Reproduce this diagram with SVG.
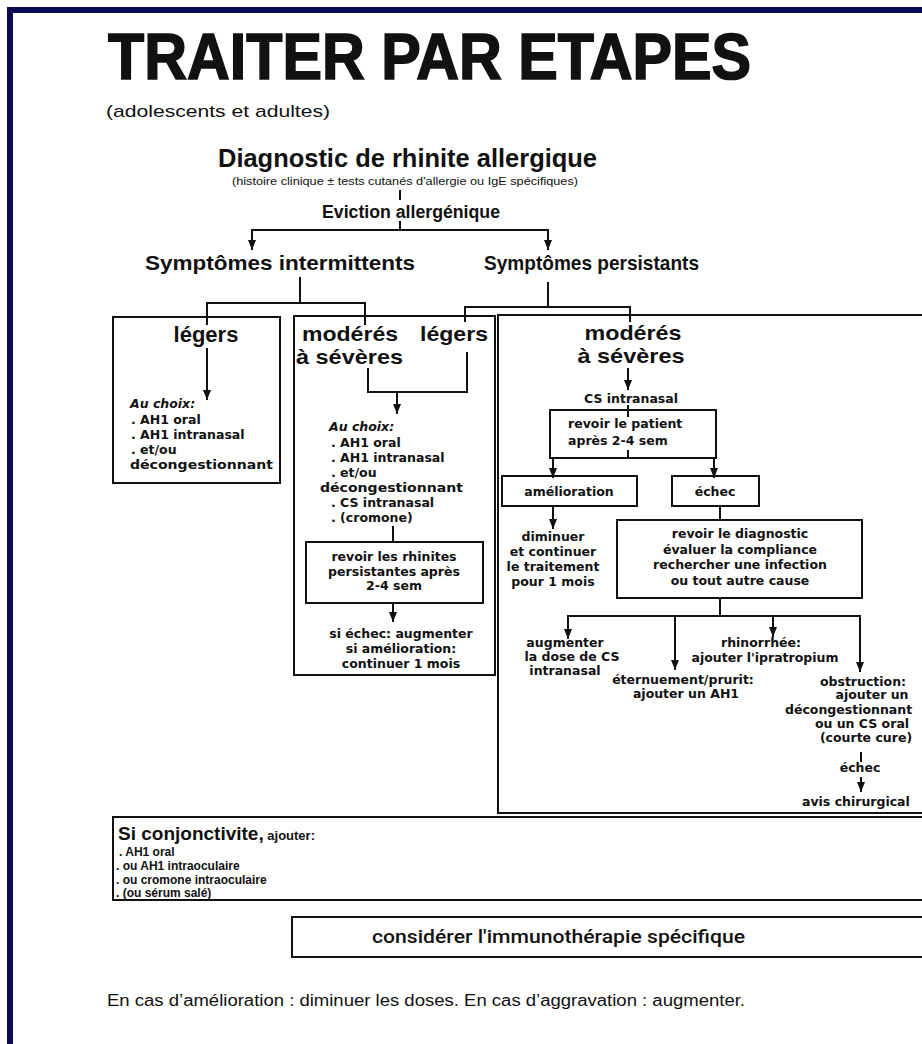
<svg xmlns="http://www.w3.org/2000/svg" width="922" height="1044" viewBox="0 0 922 1044">
<defs>
<marker id="ah" markerUnits="userSpaceOnUse" markerWidth="10" markerHeight="9" refX="10" refY="4.5" orient="auto" viewBox="0 0 10 9"><path d="M0,0.5 L10,4.5 L0,8.5 Z" fill="#111"/></marker>
<style>
.ln{stroke:#111;stroke-width:2;fill:none}
.ar{stroke:#111;stroke-width:2;fill:none;marker-end:url(#ah)}
.bx{stroke:#111;stroke-width:2;fill:none}
.h{font-family:"Liberation Sans",Arial,sans-serif;font-weight:bold;fill:#111}
.s{font-family:"DejaVu Sans","Liberation Sans",sans-serif;font-weight:bold;font-size:12.5px;fill:#111}
.c{text-anchor:middle}
.i{font-style:italic}
</style>
</defs>
<rect x="0" y="0" width="922" height="1044" fill="#fff"/>
<rect x="10" y="10" width="1000" height="1100" fill="none" stroke="#0a0a55" stroke-width="6"/>

<g id="title">
<text x="108" y="79" class="h" font-size="64" font-weight="900" stroke="#111" stroke-width="1.6" textLength="643" lengthAdjust="spacingAndGlyphs">TRAITER PAR ETAPES</text>
<text x="106" y="117" font-family="Liberation Sans,Arial,sans-serif" font-size="17" fill="#111" textLength="224" lengthAdjust="spacingAndGlyphs">(adolescents et adultes)</text>
</g>

<g id="diagnostic">
<text x="218" y="167" class="h" font-size="25" textLength="379" lengthAdjust="spacingAndGlyphs">Diagnostic de rhinite allergique</text>
<text x="232" y="185" font-family="Liberation Sans,Arial,sans-serif" font-size="11.5" fill="#111" textLength="346" lengthAdjust="spacingAndGlyphs">(histoire clinique ± tests cutanés d'allergie ou IgE spécifiques)</text>
</g>
<g id="eviction"><text x="322" y="218" class="h" font-size="17.5" textLength="178" lengthAdjust="spacingAndGlyphs">Eviction allergénique</text></g>
<g id="intermittents"><text x="145" y="270" class="h" font-size="21" textLength="270" lengthAdjust="spacingAndGlyphs">Symptômes intermittents</text></g>
<g id="persistants"><text x="484" y="270" class="h" font-size="21" textLength="215" lengthAdjust="spacingAndGlyphs">Symptômes persistants</text></g>

<g id="box-int-legers">
<rect class="bx" x="113" y="317" width="167" height="166"/>
<text x="206" y="342" class="h c" font-size="22">légers</text>
<text x="130" y="408" class="s i" font-size="12">Au choix:</text>
<text x="131" y="424" class="s">. AH1 oral</text>
<text x="131" y="439" class="s">. AH1 intranasal</text>
<text x="131" y="454" class="s">. et/ou</text>
<text x="130" y="469" class="s" textLength="143" lengthAdjust="spacingAndGlyphs">décongestionnant</text>
</g>

<g id="box-mid">
<rect class="bx" x="294" y="316" width="201" height="359"/>
<text x="302" y="341" class="h" font-size="21" textLength="96" lengthAdjust="spacingAndGlyphs">modérés</text>
<text x="420" y="341" class="h" font-size="21" textLength="68" lengthAdjust="spacingAndGlyphs">légers</text>
<text x="296" y="364" class="h" font-size="21" textLength="107" lengthAdjust="spacingAndGlyphs">à sévères</text>
<text x="329" y="431" class="s i" font-size="12">Au choix:</text>
<text x="331" y="447" class="s">. AH1 oral</text>
<text x="331" y="462" class="s">. AH1 intranasal</text>
<text x="331" y="477" class="s">. et/ou</text>
<text x="320" y="492" class="s" textLength="143" lengthAdjust="spacingAndGlyphs">décongestionnant</text>
<text x="331" y="507" class="s">. CS intranasal</text>
<text x="331" y="522" class="s">. (cromone)</text>
</g>
<g id="box-revoir-rhinites">
<rect class="bx" x="306" y="542" width="177" height="61"/>
<text x="394" y="561" class="s c">revoir les rhinites</text>
<text x="394" y="576" class="s c">persistantes après</text>
<text x="394" y="590" class="s c">2-4 sem</text>
</g>
<g id="mid-result">
<text x="401" y="638" class="s c">si échec: augmenter</text>
<text x="401" y="653" class="s c">si amélioration:</text>
<text x="401" y="668" class="s c">continuer 1 mois</text>
</g>

<g id="box-pers-moderes">
<rect class="bx" x="498" y="315" width="440" height="498"/>
<text x="633" y="340" class="h c" font-size="21" textLength="97" lengthAdjust="spacingAndGlyphs">modérés</text>
<text x="631" y="363" class="h c" font-size="21" textLength="107" lengthAdjust="spacingAndGlyphs">à sévères</text>
<text x="631" y="403" class="s c">CS intranasal</text>
</g>
<g id="box-revoir-patient">
<rect class="bx" x="550" y="410" width="166" height="48"/>
<text x="568" y="428" class="s">revoir le patient</text>
<text x="568" y="445" class="s">après 2-4 sem</text>
</g>
<g id="box-amelioration">
<rect class="bx" x="502" y="476" width="135" height="30"/>
<text x="569" y="496" class="s c">amélioration</text>
</g>
<g id="box-echec">
<rect class="bx" x="672" y="476" width="87" height="30"/>
<text x="715" y="496" class="s c">échec</text>
</g>
<g id="diminuer">
<text x="553" y="541" class="s c">diminuer</text>
<text x="553" y="556" class="s c">et continuer</text>
<text x="553" y="571" class="s c">le traitement</text>
<text x="553" y="586" class="s c">pour 1 mois</text>
</g>
<g id="box-revoir-diagnostic">
<rect class="bx" x="617" y="520" width="245" height="78"/>
<text x="740" y="538" class="s c">revoir le diagnostic</text>
<text x="740" y="554" class="s c">évaluer la compliance</text>
<text x="740" y="569" class="s c">rechercher une infection</text>
<text x="740" y="585" class="s c">ou tout autre cause</text>
</g>
<g id="augmenter">
<text x="565" y="647" class="s c">augmenter</text>
<text x="572" y="661" class="s c" font-size="12">la dose de CS</text>
<text x="565" y="675" class="s c" font-size="12">intranasal</text>
</g>
<g id="eternuement">
<text x="683" y="684" class="s c" font-size="12">éternuement/prurit:</text>
<text x="686" y="698" class="s c" font-size="12">ajouter un  AH1</text>
</g>
<g id="rhinorrhee">
<text x="761" y="647" class="s c">rhinorrhée:</text>
<text x="765" y="662" class="s c">ajouter l'ipratropium</text>
</g>
<g id="obstruction">
<text x="863" y="686" class="s c">obstruction:</text>
<text x="872" y="699" class="s c">ajouter un</text>
<text x="785" y="714" class="s">décongestionnant</text>
<text x="862" y="728" class="s c">ou un CS oral</text>
<text x="866" y="742" class="s c">(courte cure)</text>
<text x="860" y="772" class="s c">échec</text>
<text x="802" y="806" class="s">avis chirurgical</text>
</g>

<g id="box-conjonctivite">
<rect class="bx" x="113" y="817" width="830" height="83"/>
<text x="118" y="840" font-family="Liberation Sans,Arial,sans-serif" font-weight="bold" fill="#111"><tspan font-size="19">Si conjonctivite,</tspan><tspan font-size="13"> ajouter:</tspan></text>
<text x="119" y="856" class="h" font-size="12">. AH1 oral</text>
<text x="116" y="870" class="h" font-size="12">. ou AH1 intraoculaire</text>
<text x="116" y="884" class="h" font-size="12">. ou cromone intraoculaire</text>
<text x="116" y="897" class="h" font-size="12">. (ou sérum salé)</text>
</g>
<g id="box-immuno">
<rect class="bx" x="292" y="917" width="650" height="40"/>
<text x="372" y="943" font-family="Roboto,'Liberation Sans',sans-serif" font-weight="500" font-size="19" fill="#111" textLength="373" lengthAdjust="spacingAndGlyphs">considérer l'immunothérapie spécifique</text>
</g>
<g id="footer">
<text x="107" y="1006" font-family="'Liberation Sans',Arial,sans-serif" font-size="16" fill="#111" textLength="638" lengthAdjust="spacingAndGlyphs">En cas d’amélioration : diminuer les doses. En cas d’aggravation : augmenter.</text>
</g>

<g id="connectors">
<line class="ln" x1="400" y1="190" x2="400" y2="200"/>
<path class="ln" d="M400,221 V230 M252,230 H548"/>
<line class="ar" x1="252" y1="229" x2="252" y2="250"/>
<line class="ar" x1="548" y1="229" x2="548" y2="250"/>
<path class="ln" d="M300,277 V303 M207,303 H365 M207,302 V325 M365,302 V325"/>
<path class="ln" d="M548,282 V307 M465,307 H630 M465,306 V322 M630,306 V322"/>
<line class="ar" x1="207" y1="348" x2="207" y2="400"/>
<path class="ln" d="M368,368 V392 H467 V352"/>
<line class="ar" x1="397" y1="391" x2="397" y2="414"/>
<line class="ln" x1="393" y1="526" x2="393" y2="542"/>
<line class="ar" x1="393" y1="603" x2="393" y2="622"/>
<line class="ar" x1="628" y1="368" x2="628" y2="390"/>
<path class="ln" d="M628,405 V417 M628,450 V458"/>
<line class="ar" x1="553" y1="457" x2="553" y2="478"/>
<line class="ar" x1="714" y1="457" x2="714" y2="478"/>
<line class="ar" x1="553" y1="506" x2="553" y2="529"/>
<line class="ln" x1="720" y1="506" x2="720" y2="520"/>
<path class="ln" d="M720,598 V616 M568,616 H860"/>
<line class="ar" x1="568" y1="615" x2="568" y2="639"/>
<line class="ar" x1="675" y1="615" x2="675" y2="670"/>
<line class="ar" x1="773" y1="615" x2="773" y2="637"/>
<line class="ar" x1="860" y1="615" x2="860" y2="672"/>
<line class="ln" x1="861" y1="752" x2="861" y2="762"/>
<line class="ar" x1="861" y1="777" x2="861" y2="792"/>
</g>
</svg>
